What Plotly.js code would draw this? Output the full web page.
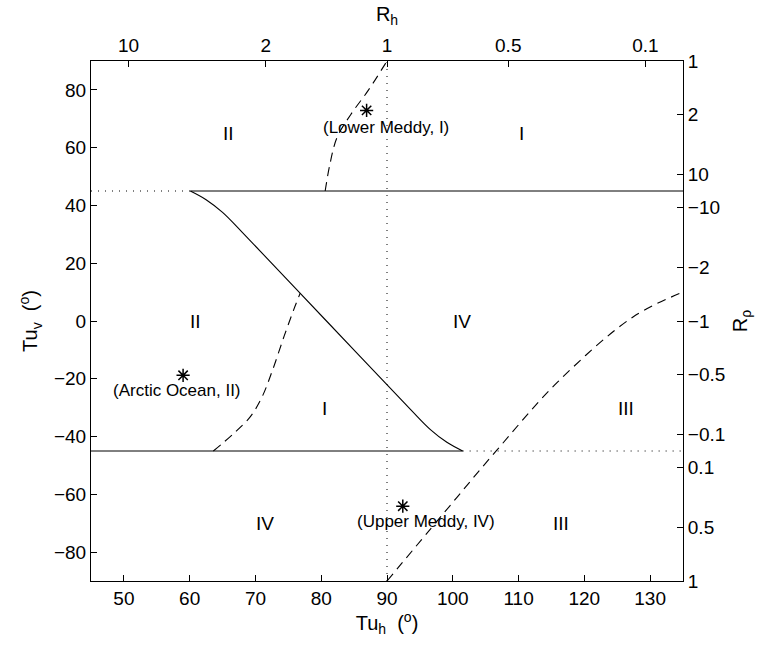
<!DOCTYPE html>
<html><head><meta charset="utf-8">
<script src="https://cdn.plot.ly/plotly-3.0.1.min.js"></script>
<style>body{margin:0;background:#fff;}#chart{width:773px;height:647px;}</style>
</head><body><div id="chart"></div>
<script>
// ---- data ----
const rhTickLabels = [10, 2, 1, 0.5, 0.1];
const rrhoTickLabels = [1, 2, 10, -10, -2, -1, -0.5, -0.1, 0.1, 0.5, 1];

const line45DottedX = [45, 60.1];
const line45SolidX = [60.1, 135];
const lineM45SolidX = [45, 101.5];
const lineM45DottedX = [101.5, 135];
const vertDottedY = [-90, 90];

const sCurveX = [60.1, 62.5, 65.0, 68.0, 80.8, 93.6, 96.6, 99.1, 101.5];
const sCurveY = [45, 42.0, 37.6, 30.7, 0, -30.7, -37.6, -42.0, -45];

const dashUpperX = [80.6, 81.3, 82.4, 84.5, 87.2, 90.0];
const dashUpperY = [45, 54, 63.5, 71.5, 80, 90];

const dashMidX = [63.6, 66.7, 69.2, 71.0, 72.6, 74.4, 76.0, 76.8];
const dashMidY = [-45, -38.9, -33.2, -26.3, -17.0, -5.0, 5.0, 9.6];

const dashLowerX = [90, 98.3, 106.7, 116, 127.4, 135];
const dashLowerY = [-90, -67.4, -44.7, -21, 1.4, 10];

const starX = [86.9, 59.0, 92.4];
const starY = [72.9, -18.8, -64.1];
const starLabels = ['(Lower Meddy, I)', '(Arctic Ocean, II)', '(Upper Meddy, IV)'];
const starLabelX = [89.9, 58.0, 96.0];
const starLabelY = [67.0, -23.9, -69.3];

const regionText = ['II', 'I', 'II', 'IV', 'I', 'III', 'IV', 'III'];
const regionX = [65.9, 110.4, 60.9, 101.4, 80.5, 126.3, 71.5, 116.4];
const regionY = [65, 65, 0, 0, -30.3, -30.3, -70, -70];

// ---- tick positions from ratios (Turner angle relations) ----
const deg = 180 / Math.PI;
const rhTickVals = rhTickLabels.map(r => 135 - Math.atan(r) * deg);
const half = rrhoTickLabels.length / 2;
const rrhoTickVals = rrhoTickLabels.map((r, i) => {
  let t = Math.atan(-r) * deg - 45;
  if (t < -90 || (t <= -90 && i < half)) t += 180;
  return t;
});
const fmt = v => (v < 0 ? '\u2212' + String(-v) : String(v));

const FONT = 'Liberation Sans, Arial, Helvetica, sans-serif';
const black = '#000';

const lineTrace = (x, y, dash) => ({
  x, y, mode: 'lines', type: 'scatter', hoverinfo: 'skip', showlegend: false,
  line: {color: black, width: 1, dash: dash, shape: 'linear'}
});
const curveTrace = (x, y, dash) => ({
  x, y, mode: 'lines', type: 'scatter', hoverinfo: 'skip', showlegend: false,
  line: {color: black, width: 1.1, dash: dash, shape: 'spline', smoothing: 1}
});

const traces = [
  lineTrace(line45DottedX, line45DottedX.map(() => 45), '1px,6px'),
  lineTrace(line45SolidX, line45SolidX.map(() => 45), 'solid'),
  lineTrace(lineM45SolidX, lineM45SolidX.map(() => -45), 'solid'),
  lineTrace(lineM45DottedX, lineM45DottedX.map(() => -45), '1px,6px'),
  lineTrace(vertDottedY.map(() => 90), vertDottedY, '1px,6px'),
  curveTrace(sCurveX, sCurveY, 'solid'),
  curveTrace(dashUpperX, dashUpperY, '9px,6px'),
  curveTrace(dashMidX, dashMidY, '9px,6px'),
  curveTrace(dashLowerX, dashLowerY, '9px,6px'),
  {x: starX, y: starY, mode: 'markers', type: 'scatter', hoverinfo: 'skip', showlegend: false,
   marker: {symbol: 'asterisk-open', size: 11, color: black, line: {color: black, width: 1.5}}},
  {x: [45], y: [-90], xaxis: 'x2', yaxis: 'y2', type: 'scatter', mode: 'markers', showlegend: false,
   hoverinfo: 'skip', marker: {opacity: 0, size: 1}}
];

const annotations = [];
starLabels.forEach((t, i) => annotations.push({
  x: starLabelX[i], y: starLabelY[i], xref: 'x', yref: 'y', text: t, showarrow: false,
  xanchor: 'center', yanchor: 'middle', font: {family: FONT, size: 17, color: black}
}));
regionText.forEach((t, i) => annotations.push({
  x: regionX[i], y: regionY[i], xref: 'x', yref: 'y', text: t, showarrow: false,
  xanchor: 'center', yanchor: 'middle', font: {family: FONT, size: 19, color: black}
}));

const axisCommon = {
  showgrid: false, zeroline: false, showline: true, linecolor: black, linewidth: 1,
  ticks: 'inside', ticklen: 6, tickwidth: 1, tickcolor: black,
  tickfont: {family: FONT, size: 19, color: black}
};

const layout = {
  width: 773, height: 647,
  margin: {l: 91, r: 90, t: 61, b: 66, pad: 0},
  paper_bgcolor: '#fff', plot_bgcolor: '#fff',
  font: {family: FONT, color: black},
  showlegend: false,
  annotations: annotations,
  xaxis: Object.assign({}, axisCommon, {
    range: [45, 135], tickmode: 'linear', tick0: 50, dtick: 10,
    title: {text: 'Tu<sub>h</sub>  (<sup>o</sup>)', font: {family: FONT, size: 20, color: black}, standoff: 5}
  }),
  yaxis: Object.assign({}, axisCommon, {
    range: [-90, 90], tickmode: 'linear', tick0: -80, dtick: 20,
    title: {text: 'Tu<sub>v</sub>  (<sup>o</sup>)', font: {family: FONT, size: 20, color: black}, standoff: 10}
  }),
  xaxis2: Object.assign({}, axisCommon, {
    overlaying: 'x', side: 'top', range: [45, 135], anchor: 'y',
    tickmode: 'array', tickvals: rhTickVals, ticktext: rhTickLabels.map(fmt),
    title: {text: 'R<sub>h</sub>', font: {family: FONT, size: 20, color: black}, standoff: 8}
  }),
  yaxis2: Object.assign({}, axisCommon, {
    overlaying: 'y', side: 'right', range: [-90, 90], anchor: 'x',
    tickmode: 'array', tickvals: rrhoTickVals, ticktext: rrhoTickLabels.map(fmt),
    title: {text: 'R<sub>\u03c1</sub>', font: {family: FONT, size: 20, color: black}, standoff: 8}
  })
};

Plotly.newPlot('chart', traces, layout, {staticPlot: true, displayModeBar: false});
</script>
</body></html>
